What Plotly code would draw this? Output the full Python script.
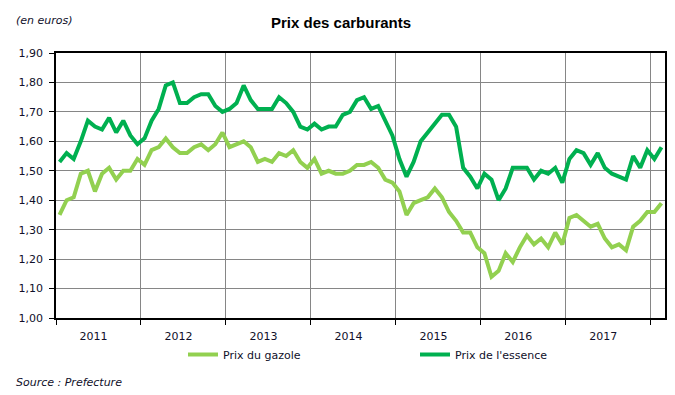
import plotly.graph_objects as go

# ---- data (monthly, Jan 2011 -> Feb 2018) ----
month_index = list(range(86))
gazole = [
    1.35, 1.40, 1.41, 1.49, 1.50, 1.43, 1.49, 1.51, 1.47, 1.50, 1.50, 1.54,   # 2011
    1.52, 1.57, 1.58, 1.61, 1.58, 1.56, 1.56, 1.58, 1.59, 1.57, 1.59, 1.63,   # 2012
    1.58, 1.59, 1.60, 1.58, 1.53, 1.54, 1.53, 1.56, 1.55, 1.57, 1.53, 1.51,   # 2013
    1.54, 1.49, 1.50, 1.49, 1.49, 1.50, 1.52, 1.52, 1.53, 1.51, 1.47, 1.46,   # 2014
    1.43, 1.35, 1.39, 1.40, 1.41, 1.44, 1.41, 1.36, 1.33, 1.29, 1.29, 1.24,   # 2015
    1.22, 1.14, 1.16, 1.22, 1.19, 1.24, 1.28, 1.25, 1.27, 1.24, 1.29, 1.25,   # 2016
    1.34, 1.35, 1.33, 1.31, 1.32, 1.27, 1.24, 1.25, 1.23, 1.31, 1.33, 1.36,   # 2017
    1.36, 1.39,                                                               # 2018
]
essence = [
    1.53, 1.56, 1.54, 1.60, 1.67, 1.65, 1.64, 1.68, 1.63, 1.67, 1.62, 1.59,   # 2011
    1.61, 1.67, 1.71, 1.79, 1.80, 1.73, 1.73, 1.75, 1.76, 1.76, 1.72, 1.70,   # 2012
    1.71, 1.73, 1.79, 1.74, 1.71, 1.71, 1.71, 1.75, 1.73, 1.70, 1.65, 1.64,   # 2013
    1.66, 1.64, 1.65, 1.65, 1.69, 1.70, 1.74, 1.75, 1.71, 1.72, 1.67, 1.62,   # 2014
    1.54, 1.48, 1.53, 1.60, 1.63, 1.66, 1.69, 1.69, 1.65, 1.51, 1.48, 1.44,   # 2015
    1.49, 1.47, 1.40, 1.44, 1.51, 1.51, 1.51, 1.47, 1.50, 1.49, 1.51, 1.46,   # 2016
    1.54, 1.57, 1.56, 1.52, 1.56, 1.51, 1.49, 1.48, 1.47, 1.55, 1.51, 1.57,   # 2017
    1.54, 1.58,                                                               # 2018
]
year_labels = ["2011", "2012", "2013", "2014", "2015", "2016", "2017"]
y_ticks = [1.0, 1.1, 1.2, 1.3, 1.4, 1.5, 1.6, 1.7, 1.8, 1.9]

series_names = ["Prix du gazole", "Prix de l'essence"]
series_colors = ["#92D050", "#00B050"]

FONT = "DejaVu Sans"
TITLE_FONT = "Liberation Sans"
TXT = "#10102a"
GRID = "#868686"

# plot area in pixels (for placing free text)
L, R, T, B = 56, 665, 52.5, 318
def px_x(x):
    return (x - L) / (R - L)
def px_y(y):
    return (B - y) / (B - T)

fig = go.Figure()
fig.add_trace(go.Scatter(x=month_index, y=gazole, mode="lines", name=series_names[0],
                         line=dict(color=series_colors[0], width=4), legend="legend"))
fig.add_trace(go.Scatter(x=month_index, y=essence, mode="lines", name=series_names[1],
                         line=dict(color=series_colors[1], width=4), legend="legend2"))

year_pos = [5.5 + 12 * k for k in range(len(year_labels))]
year_bounds = [-0.5 + 12 * k for k in range(len(year_labels) + 1)]

fig.update_layout(
    width=675, height=395,
    margin=dict(l=L, r=675 - R, t=T, b=395 - B),
    paper_bgcolor="white", plot_bgcolor="white",
    separators=", ",
    font=dict(family=FONT, size=11, color=TXT),
    showlegend=True,
    hovermode=False,
    xaxis=dict(
        range=[-0.5, 85.5], showline=True, linecolor="black", linewidth=1.5, mirror=True,
        tickmode="array", tickvals=year_pos, ticktext=year_labels, ticks="",
        ticklabelshift=-5, ticklabelstandoff=7, showgrid=False, zeroline=False, automargin=False,
        tickfont=dict(family=FONT, size=11, color=TXT),
        minor=dict(tickmode="array", tickvals=year_bounds, ticks="outside", ticklen=5,
                   tickcolor="black", tickwidth=1, showgrid=True, gridcolor=GRID, gridwidth=1),
    ),
    yaxis=dict(
        range=[1.0, 1.9], tickmode="array", tickvals=y_ticks, tickformat=".2f",
        ticks="outside", ticklen=5, tickcolor="black", tickwidth=1, ticklabelstandoff=4,
        showline=True, linecolor="black", linewidth=1.5, mirror=True, automargin=False,
        showgrid=True, gridcolor=GRID, gridwidth=1, zeroline=False,
        tickfont=dict(family=FONT, size=11, color=TXT),
    ),
    legend=dict(orientation="h", xref="container", yref="container", x=183 / 675, y=1 - 340 / 395,
                xanchor="left", yanchor="top", font=dict(family=FONT, size=11, color=TXT),
                bgcolor="rgba(0,0,0,0)"),
    legend2=dict(orientation="h", xref="container", yref="container", x=415 / 675, y=1 - 340 / 395,
                 xanchor="left", yanchor="top", font=dict(family=FONT, size=11, color=TXT),
                 bgcolor="rgba(0,0,0,0)"),
    annotations=[
        dict(text="<b>Prix des carburants</b>", xref="paper", yref="paper", x=px_x(341), y=px_y(22),
             xanchor="center", yanchor="middle", showarrow=False,
             font=dict(family=TITLE_FONT, size=15, color="#000000")),
        dict(text="<i>(en euros)</i>", xref="paper", yref="paper", x=px_x(14), y=px_y(20),
             xanchor="left", yanchor="middle", showarrow=False,
             font=dict(family=FONT, size=11, color=TXT)),
        dict(text="<i>Source : Prefecture</i>", xref="paper", yref="paper", x=px_x(14), y=px_y(383),
             xanchor="left", yanchor="middle", showarrow=False,
             font=dict(family=FONT, size=11, color=TXT)),
    ],
)

fig.write_html("out.html", config={"displayModeBar": False},
               post_script="document.body.style.margin='0';document.body.style.padding='0';")
